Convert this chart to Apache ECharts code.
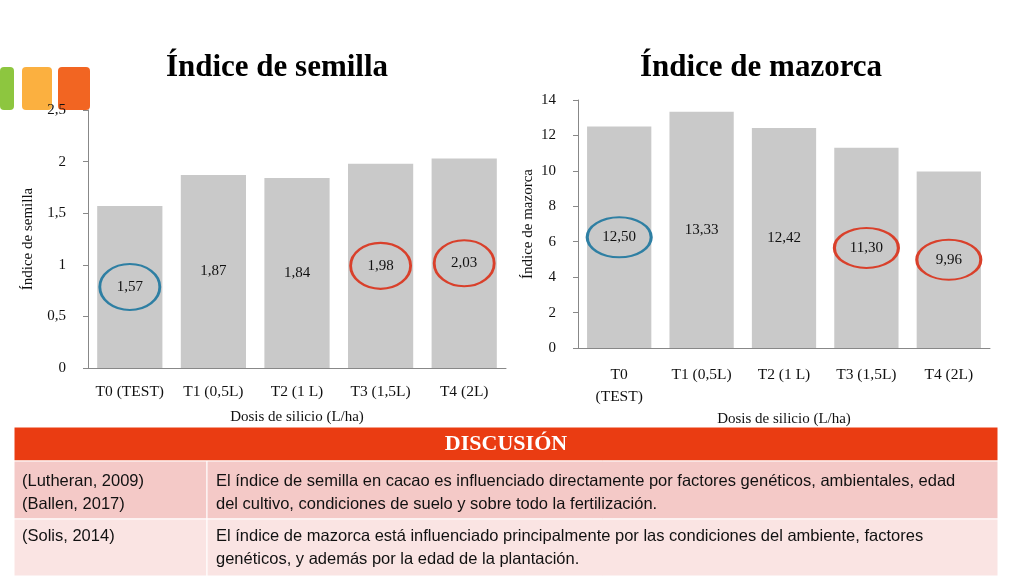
<!DOCTYPE html>
<html><head><meta charset="utf-8">
<script src="https://cdn.jsdelivr.net/npm/echarts@6/dist/echarts.min.js"></script>
<style>html,body{margin:0;padding:0;background:#fff}#c{width:1024px;height:576px}</style>
</head><body><div id="c"></div>
<script>
// datos
const catsSemilla = ['T0 (TEST)', 'T1 (0,5L)', 'T2 (1 L)', 'T3 (1,5L)', 'T4 (2L)'];
const valSemilla = [1.57, 1.87, 1.84, 1.98, 2.03];
const catsMazorca = ['T0\n(TEST)', 'T1 (0,5L)', 'T2 (1 L)', 'T3 (1,5L)', 'T4 (2L)'];
const valMazorca = [12.50, 13.33, 12.42, 11.30, 9.96];
// indices de las barras marcadas con circulo
const circSemilla = [[0, '#2e7fa3'], [3, '#d9402b'], [4, '#d9402b']];
const circMazorca = [[0, '#2e7fa3'], [3, '#d9402b'], [4, '#d9402b']];

const serif = 'Liberation Serif';
const chart = echarts.init(document.getElementById('c'));

function fmt(v) { return v.toFixed(2).replace('.', ','); }

function marks(cats, vals, list, size) {
  return list.map(function (m) {
    return {
      coord: [cats[m[0]], vals[m[0]] / 2],
      symbol: 'circle', symbolSize: size,
      itemStyle: { color: 'rgba(0,0,0,0)', borderColor: m[1], borderWidth: 2.5 },
      label: { show: false }
    };
  });
}

function tcell(x, y, w, h, fill) {
  return { type: 'rect', shape: { x: x, y: y, width: w, height: h }, style: { fill: fill, stroke: '#fff', lineWidth: 1 } };
}
function ttext(x, y, t) {
  return { type: 'text', x: x, y: y, style: { text: t, font: '16.5px "Liberation Sans"', fill: '#111', lineHeight: 23 } };
}

var option = {
  animation: false,
  title: [
    { text: 'Índice de semilla', left: 272, top: 47, textAlign: 'center',
      textStyle: { fontFamily: serif, fontSize: 31, fontWeight: 'bold', color: '#000' } },
    { text: 'Índice de mazorca', left: 756, top: 47, textAlign: 'center',
      textStyle: { fontFamily: serif, fontSize: 31, fontWeight: 'bold', color: '#000' } }
  ],
  grid: [
    { left: 88, top: 110, width: 418, height: 258 },
    { left: 578, top: 100, width: 412, height: 248 }
  ],
  xAxis: [
    { type: 'category', gridIndex: 0, data: catsSemilla,
      name: 'Dosis de silicio (L/ha)', nameLocation: 'middle', nameGap: 42,
      nameTextStyle: { fontFamily: serif, fontSize: 15, color: '#111' },
      axisTick: { show: false }, axisLine: { lineStyle: { color: '#888' } },
      axisLabel: { fontFamily: serif, fontSize: 15.5, color: '#111', margin: 16, interval: 0 } },
    { type: 'category', gridIndex: 1, data: catsMazorca,
      name: 'Dosis de silicio (L/ha)', nameLocation: 'middle', nameGap: 64,
      nameTextStyle: { fontFamily: serif, fontSize: 15, color: '#111' },
      axisTick: { show: false }, axisLine: { lineStyle: { color: '#888' } },
      axisLabel: { fontFamily: serif, fontSize: 15.5, color: '#111', margin: 16, interval: 0, lineHeight: 22, verticalAlign: 'top' } }
  ],
  yAxis: [
    { type: 'value', gridIndex: 0, min: 0, max: 2.5, interval: 0.5,
      name: 'Índice de semilla', nameLocation: 'middle', nameGap: 52,
      nameTextStyle: { fontFamily: serif, fontSize: 15, color: '#111' },
      axisLine: { show: true, lineStyle: { color: '#888' } }, axisTick: { show: true, lineStyle: { color: '#888' } },
      splitLine: { show: false },
      axisLabel: { fontFamily: serif, fontSize: 15, color: '#111', margin: 22, formatter: function (v) { return String(v).replace('.', ','); } } },
    { type: 'value', gridIndex: 1, min: 0, max: 14, interval: 2,
      name: 'Índice de mazorca', nameLocation: 'middle', nameGap: 42,
      nameTextStyle: { fontFamily: serif, fontSize: 15, color: '#111' },
      axisLine: { show: true, lineStyle: { color: '#888' } }, axisTick: { show: true, lineStyle: { color: '#888' } },
      splitLine: { show: false },
      axisLabel: { fontFamily: serif, fontSize: 15, color: '#111', margin: 22 } }
  ],
  series: [
    { type: 'bar', xAxisIndex: 0, yAxisIndex: 0, data: valSemilla, barCategoryGap: '22%',
      itemStyle: { color: '#c9c9c9' },
      label: { show: true, position: 'inside', fontFamily: serif, fontSize: 15, color: '#111', formatter: function (p) { return fmt(p.value); } },
      markPoint: { data: marks(catsSemilla, valSemilla, circSemilla, [60, 46]) } },
    { type: 'bar', xAxisIndex: 1, yAxisIndex: 1, data: valMazorca, barCategoryGap: '22%',
      itemStyle: { color: '#c9c9c9' },
      label: { show: true, position: 'inside', fontFamily: serif, fontSize: 15, color: '#111', formatter: function (p) { return fmt(p.value); } },
      markPoint: { data: marks(catsMazorca, valMazorca, circMazorca, [64, 40]) } }
  ],
  graphic: [
    { type: 'rect', shape: { x: 0, y: 67, width: 14, height: 43, r: 4 }, style: { fill: '#8dc63f' } },
    { type: 'rect', shape: { x: 22, y: 67, width: 30, height: 43, r: 4 }, style: { fill: '#fbb040' } },
    { type: 'rect', shape: { x: 58, y: 67, width: 32, height: 43, r: 4 }, style: { fill: '#f26522' } },
    tcell(14, 427, 984, 34, '#ea3c12'),
    { type: 'text', x: 506, y: 444, style: { text: 'DISCUSIÓN', font: 'bold 22px "Liberation Serif"', fill: '#fff', align: 'center', verticalAlign: 'middle' } },
    tcell(14, 461, 193, 58, '#f4c9c7'),
    tcell(207, 461, 791, 58, '#f4c9c7'),
    tcell(14, 519, 193, 57, '#fae4e3'),
    tcell(207, 519, 791, 57, '#fae4e3'),
    ttext(22, 470, '(Lutheran, 2009)\n(Ballen, 2017)'),
    ttext(216, 470, 'El índice de semilla en cacao es influenciado directamente por factores genéticos, ambientales, edad\ndel cultivo, condiciones de suelo y sobre todo la fertilización.'),
    ttext(22, 525, '(Solis, 2014)'),
    ttext(216, 525, 'El índice de mazorca está influenciado principalmente por las condiciones del ambiente, factores\ngenéticos, y además por la edad de la plantación.')
  ]
};
chart.setOption(option);
</script>
</body></html>
